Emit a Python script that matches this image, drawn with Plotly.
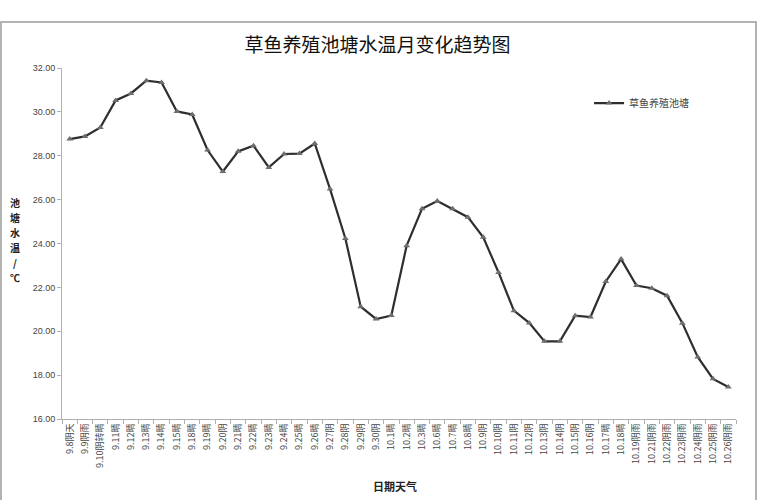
import plotly.graph_objects as go

# 日期天气（横轴分类）
dates = [
    "9.8阴天", "9.9阴雨", "9.10阴转晴", "9.11晴", "9.12晴", "9.13晴", "9.14晴",
    "9.15晴", "9.18晴", "9.19晴", "9.20阴", "9.21晴", "9.22晴", "9.23晴",
    "9.24晴", "9.25晴", "9.26晴", "9.27阴", "9.28阴", "9.29阴", "9.30阴",
    "10.1晴", "10.2晴", "10.3晴", "10.6晴", "10.7晴", "10.8晴", "10.9阴",
    "10.10阴", "10.11阴", "10.12阴", "10.13阴", "10.14阴", "10.15阴", "10.16阴",
    "10.17晴", "10.18晴", "10.19阴雨", "10.21阴雨", "10.22阴雨", "10.23阴雨",
    "10.24阴雨", "10.25阴雨", "10.26阴雨",
]

# 池塘水温（℃）
water_temp = [
    28.76, 28.88, 29.29, 30.52, 30.84, 31.42, 31.34,
    30.02, 29.88, 28.26, 27.28, 28.20, 28.46, 27.47,
    28.08, 28.10, 28.56, 26.48, 24.23, 21.12, 20.56,
    20.72, 23.90, 25.58, 25.94, 25.58, 25.20, 24.28,
    22.68, 20.94, 20.38, 19.54, 19.54, 20.71, 20.65,
    22.27, 23.29, 22.08, 21.96, 21.62, 20.37,
    18.83, 17.83, 17.46,
]

series_name = "草鱼养殖池塘"
y_title_chars = ["池", "塘", "水", "温", "/", "℃"]
y_ticks = [16, 18, 20, 22, 24, 26, 28, 30, 32]

font_cn = "Noto Sans CJK SC"

fig = go.Figure()
fig.add_trace(go.Scatter(
    x=dates,
    y=water_temp,
    name=series_name,
    mode="lines+markers",
    line=dict(color="#2e2e2e", width=2.2),
    marker=dict(symbol="triangle-up", size=6, color="#6e6e6e",
                line=dict(width=0)),
))

# 外框
fig.add_shape(type="rect", xref="paper", yref="paper",
              x0=-0.0905, x1=1.0297, y0=-0.3, y1=1.131,
              line=dict(color="#9a9a9a", width=1.5), fillcolor="rgba(0,0,0,0)")

# 纵轴标题（竖排，逐字放置）
for i, ch in enumerate(y_title_chars):
    fig.add_annotation(
        text="<b>" + ch + "</b>",
        xref="paper", yref="paper", x=-0.07, y=0.6175 - i * 0.043,
        xanchor="center", yanchor="middle",
        showarrow=False, borderpad=0,
        font=dict(family=font_cn, size=10, color="#222222"),
    )

# 横轴标题
fig.add_annotation(
    text="<b>日期天气</b>",
    xref="paper", yref="paper", x=0.494, y=-0.22,
    showarrow=False,
    font=dict(family=font_cn, size=11, color="#222222"),
)

fig.update_layout(
    width=758, height=500,
    paper_bgcolor="white", plot_bgcolor="white",
    margin=dict(l=62, r=22, t=68, b=81),
    title=dict(text="草鱼养殖池塘水温月变化趋势图", x=0.498, xanchor="center",
               y=0.91, yanchor="middle",
               font=dict(family=font_cn, size=19, color="#111111")),
    font=dict(family=font_cn, color="#333333"),
    showlegend=True,
    legend=dict(x=0.782, y=0.9, xanchor="left", yanchor="middle",
                bgcolor="rgba(0,0,0,0)", font=dict(size=10, color="#444444"),
                itemwidth=30),
    xaxis=dict(
        type="category", tickangle=-90, tickson="boundaries",
        ticks="outside", ticklen=4, tickcolor="#b0b0b0",
        showline=True, linecolor="#b0b0b0", linewidth=1,
        showgrid=False, tickfont=dict(size=9, color="#444444"),
        range=[-0.5, len(dates) - 0.5],
    ),
    yaxis=dict(
        range=[16, 32], tickvals=y_ticks, tickformat=".2f",
        ticks="outside", ticklen=4, tickcolor="#b0b0b0",
        showline=True, linecolor="#b0b0b0", linewidth=1,
        showgrid=False, zeroline=False,
        tickfont=dict(family="Liberation Sans", size=9, color="#444444"),
    ),
)

fig.write_html("out.html", config={"displayModeBar": False},
               post_script="document.body.style.margin='0';")
